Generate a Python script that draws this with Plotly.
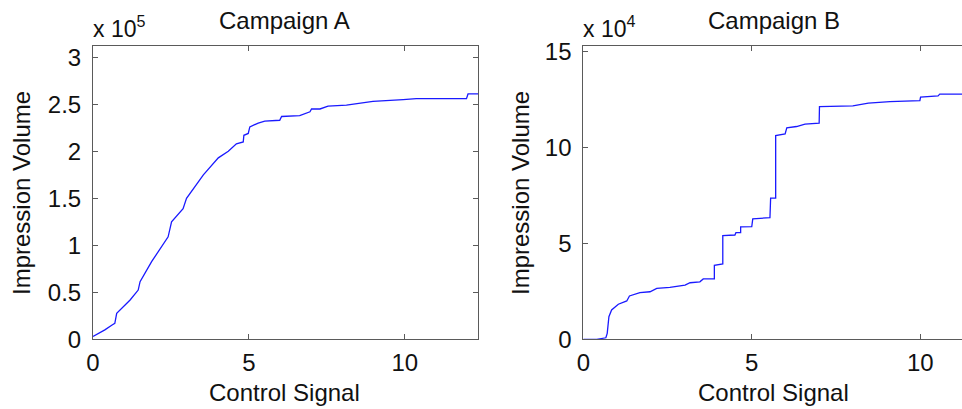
import plotly.graph_objects as go

# ---------------- data ----------------
# Campaign A (impressions in units of 1e5)
a_signal = [0.0, 0.38, 0.60, 0.70, 0.76, 1.19, 1.45, 1.51, 1.88, 2.15, 2.41, 2.52, 2.89, 3.00,
            3.26, 3.54, 4.02, 4.34, 4.60, 4.82, 4.84, 4.98, 5.03, 5.30, 5.51, 5.99, 6.05,
            6.63, 6.96, 7.01, 7.28, 7.54, 8.13, 8.98, 9.95, 10.37, 11.98, 12.03, 12.35]
a_volume = [0.03, 0.10, 0.15, 0.17, 0.277, 0.418, 0.524, 0.613, 0.826, 0.968, 1.09, 1.25, 1.39, 1.50,
            1.62, 1.75, 1.93, 2.00, 2.08, 2.10, 2.17, 2.19, 2.26, 2.30, 2.32, 2.33, 2.37,
            2.38, 2.42, 2.45, 2.45, 2.48, 2.49, 2.53, 2.55, 2.56, 2.56, 2.61, 2.61]

# Campaign B (impressions in units of 1e4)
b_signal = [0.0, 0.40, 0.67, 0.71, 0.76, 0.84, 1.04, 1.29, 1.37, 1.68, 1.98, 2.18, 2.57, 3.02,
            3.17, 3.46, 3.56, 3.89, 3.89, 4.14, 4.14, 4.50, 4.53, 4.67, 4.67, 5.00, 5.03,
            5.54, 5.56, 5.71, 5.71, 5.99, 6.04, 6.33, 6.58, 7.00, 7.01, 8.00, 8.46, 9.10,
            9.99, 10.01, 10.53, 10.58, 11.30]
b_volume = [0.0, 0.0, 0.08, 0.31, 1.18, 1.53, 1.83, 2.00, 2.26, 2.43, 2.48, 2.66, 2.71, 2.83,
            2.95, 3.00, 3.15, 3.15, 3.86, 3.93, 5.41, 5.44, 5.56, 5.56, 5.87, 5.88, 6.28,
            6.35, 7.36, 7.36, 10.63, 10.71, 11.03, 11.10, 11.22, 11.27, 12.14, 12.18, 12.32, 12.40,
            12.45, 12.63, 12.70, 12.79, 12.79]

titles = ["Campaign A", "Campaign B"]
x_label = "Control Signal"
y_label = "Impression Volume"
exponents = ["5", "4"]
a_yticks = [0, 0.5, 1, 1.5, 2, 2.5, 3]
a_yticktext = ["0", "0.5", "1", "1.5", "2", "2.5", "3"]
b_yticks = [0, 5, 10, 15]
x_ticks = [0, 5, 10]

# ---------------- layout helpers ----------------
W, H = 962, 409
FONT = "Liberation Sans, Arial, sans-serif"
AX_COLOR = "#5a5a5a"
TXT = "#111111"


def px_x(p):
    return p / W


def px_y(p):
    return 1 - p / H


fig = go.Figure()
fig.add_trace(go.Scatter(x=a_signal, y=a_volume, mode="lines",
                         line=dict(color="#1a1aff", width=1.3), xaxis="x", yaxis="y",
                         showlegend=False, hoverinfo="skip"))
fig.add_trace(go.Scatter(x=b_signal, y=b_volume, mode="lines",
                         line=dict(color="#1a1aff", width=1.3), xaxis="x2", yaxis="y2",
                         showlegend=False, hoverinfo="skip"))

axis_common = dict(showgrid=False, zeroline=False, showline=True, linecolor=AX_COLOR, linewidth=1,
                   ticks="inside", ticklen=5, tickcolor=AX_COLOR, tickwidth=1, automargin=False,
                   tickfont=dict(family=FONT, size=24, color=TXT))

ydom = [px_y(339.3), px_y(46)]

fig.update_layout(
    width=W, height=H, autosize=False,
    template="none",
    margin=dict(l=0, r=0, t=0, b=0, pad=0),
    paper_bgcolor="white", plot_bgcolor="white",
    xaxis=dict(domain=[px_x(93), px_x(478)], range=[0, 12.35], tickvals=x_ticks,
               mirror="ticks", anchor="y", ticklabelstandoff=2, **axis_common),
    yaxis=dict(domain=ydom, range=[0, 3.12], tickvals=a_yticks, ticktext=a_yticktext,
               mirror="ticks", anchor="x", ticklabelstandoff=6, **axis_common),
    xaxis2=dict(domain=[px_x(583.3), 1.0], range=[0, 11.24], tickvals=x_ticks,
                mirror="ticks", anchor="y2", ticklabelstandoff=2, **axis_common),
    yaxis2=dict(domain=ydom, range=[0, 15.3], tickvals=b_yticks,
                mirror=False, anchor="x2", ticklabelstandoff=6, **axis_common),
)

ann = []
panels = [
    dict(title_x=284, exp_x=91, xlab_x=284, ylab_x=21),
    dict(title_x=774, exp_x=581, xlab_x=773, ylab_x=520),
]
for i, p in enumerate(panels):
    ann.append(dict(text=titles[i], x=px_x(p["title_x"]), y=px_y(20), xref="paper", yref="paper",
                    xanchor="center", yanchor="middle", showarrow=False,
                    font=dict(family=FONT, size=24, color=TXT)))
    ann.append(dict(text="x 10<sup>" + exponents[i] + "</sup>", x=px_x(p["exp_x"]), y=px_y(27),
                    xref="paper", yref="paper", xanchor="left", yanchor="middle", showarrow=False,
                    font=dict(family=FONT, size=23, color=TXT)))
    ann.append(dict(text=x_label, x=px_x(p["xlab_x"]), y=px_y(392), xref="paper", yref="paper",
                    xanchor="center", yanchor="middle", showarrow=False,
                    font=dict(family=FONT, size=24, color=TXT)))
    ann.append(dict(text=y_label, x=px_x(p["ylab_x"]), y=px_y(193), xref="paper", yref="paper",
                    xanchor="center", yanchor="middle", textangle=-90, showarrow=False,
                    font=dict(family=FONT, size=24, color=TXT)))
fig.update_layout(annotations=ann)

fig.write_html("out.html",
               post_script="document.body.style.margin='0';document.body.style.overflow='hidden';")
